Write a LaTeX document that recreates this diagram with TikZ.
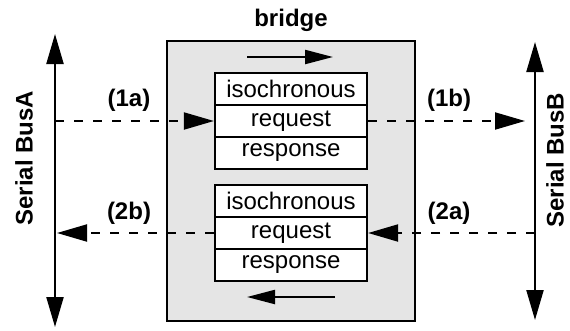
\documentclass[tikz,border=0pt]{standalone}
\usepackage{fontspec}
\setmainfont{Liberation Sans}
\usetikzlibrary{arrows.meta}
\begin{document}
\begin{tikzpicture}[x=1pt,y=-1pt,
  every node/.style={font=\fontsize{24}{27}\selectfont, inner sep=0pt},
  bus/.style={line width=2.2pt, {Triangle[length=30pt,width=17pt]}-{Triangle[length=30pt,width=17pt]}},
  msg/.style={line width=2pt, dash pattern=on 9pt off 10pt, -{Triangle[length=30pt,width=17pt]}},
  flow/.style={line width=2.2pt, -{Triangle[length=28pt,width=14pt]}},
  bridgebox/.style={draw, line width=2.2pt, fill=gray!20, minimum width=248pt, minimum height=280pt},
  slot/.style={draw, line width=2.2pt, fill=white, minimum width=152pt, minimum height=32pt},
  tag/.style={font=\fontsize{24}{27}\selectfont\bfseries}
]
\useasboundingbox (0,0) rectangle (570,330);

% bridge and its queues
\node[bridgebox] (bridge) at (291,181) {};
\node[tag] (bridgelabel) at (291,20) {bridge};

\node[slot] (iso1)  at (291,89)  {isochronous};
\node[slot] (req1)  at (291,121) {request};
\node[slot] (resp1) at (291,153) {response};

\node[slot] (iso2)  at (291,201) {isochronous};
\node[slot] (req2)  at (291,233) {request};
\node[slot] (resp2) at (291,265) {response};

% direction arrows inside the bridge
\coordinate (fwdS) at (247,57);
\coordinate (fwdE) at (333,57);
\coordinate (bwdS) at (335,297);
\coordinate (bwdE) at (247,297);
\draw[flow] (fwdS) -- (fwdE);
\draw[flow] (bwdS) -- (bwdE);

% the two serial buses
\coordinate (aTop) at (55,34);
\coordinate (aBot) at (55,327);
\coordinate (bTop) at (535,42);
\coordinate (bBot) at (535,320);
\draw[bus] (aTop) -- (aBot);
\draw[bus] (bTop) -- (bBot);
\node[tag, rotate=90] (busA) at (24,158) {Serial BusA};
\node[tag, rotate=90] (busB) at (555,160) {Serial BusB};

% transactions crossing the bridge
\coordinate (a1) at (55,121);
\coordinate (b1) at (525,121);
\coordinate (b2) at (535,233);
\coordinate (a2) at (57,233);
\draw[msg] (a1) -- (req1.west);
\draw[msg] (req1.east) -- (b1);
\draw[msg] (b2) -- (req2.east);
\draw[msg] (req2.west) -- (a2);

\node[tag] (l1a) at (129,100) {(1a)};
\node[tag] (l1b) at (449,100) {(1b)};
\node[tag] (l2b) at (129,213) {(2b)};
\node[tag] (l2a) at (449,213) {(2a)};
\end{tikzpicture}
\end{document}
